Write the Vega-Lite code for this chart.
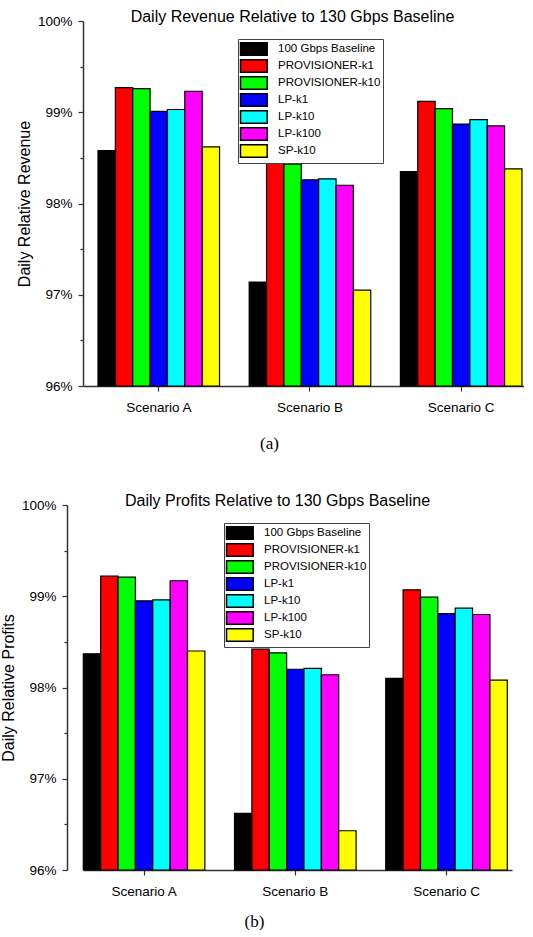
{
  "$schema": "https://vega.github.io/schema/vega-lite/v6.json",
  "padding": {"left": 0, "top": 9, "right": 0, "bottom": 0},
  "background": "white",
  "config": {
    "view": {"stroke": null},
    "font": "Liberation Sans",
    "axis": {"grid": false, "domainColor": "#333", "tickColor": "#333", "domainWidth": 1.5, "tickWidth": 1.2, "labelColor": "black", "labelFont": "Liberation Sans", "titleColor": "black", "titleFontWeight": "normal"},
    "legend": {"orient": "none", "direction": "vertical", "title": null, "fillColor": "white", "strokeColor": "#444", "padding": 2.5, "symbolType": "M-2,-0.92H2V0.92H-2Z", "symbolSize": 178, "symbolOffset": 5.85, "symbolStrokeColor": "black", "symbolStrokeWidth": 1.5, "symbolOpacity": 1, "labelFontSize": 11.5, "labelFont": "Liberation Sans", "labelColor": "black", "labelOffset": 16.7, "rowPadding": -4, "labelLimit": 300},
    "title": {"fontSize": 16, "fontWeight": "normal", "font": "Liberation Sans", "color": "black", "anchor": "middle"}
  },
  "data": {"values": [
    {"panel": "a", "scenario": "Scenario A", "series": "100 Gbps Baseline", "value": 98.58},
    {"panel": "a", "scenario": "Scenario A", "series": "PROVISIONER-k1", "value": 99.27},
    {"panel": "a", "scenario": "Scenario A", "series": "PROVISIONER-k10", "value": 99.26},
    {"panel": "a", "scenario": "Scenario A", "series": "LP-k1", "value": 99.01},
    {"panel": "a", "scenario": "Scenario A", "series": "LP-k10", "value": 99.03},
    {"panel": "a", "scenario": "Scenario A", "series": "LP-k100", "value": 99.23},
    {"panel": "a", "scenario": "Scenario A", "series": "SP-k10", "value": 98.62},
    {"panel": "a", "scenario": "Scenario B", "series": "100 Gbps Baseline", "value": 97.14},
    {"panel": "a", "scenario": "Scenario B", "series": "PROVISIONER-k1", "value": 98.48},
    {"panel": "a", "scenario": "Scenario B", "series": "PROVISIONER-k10", "value": 98.43},
    {"panel": "a", "scenario": "Scenario B", "series": "LP-k1", "value": 98.26},
    {"panel": "a", "scenario": "Scenario B", "series": "LP-k10", "value": 98.27},
    {"panel": "a", "scenario": "Scenario B", "series": "LP-k100", "value": 98.2},
    {"panel": "a", "scenario": "Scenario B", "series": "SP-k10", "value": 97.05},
    {"panel": "a", "scenario": "Scenario C", "series": "100 Gbps Baseline", "value": 98.35},
    {"panel": "a", "scenario": "Scenario C", "series": "PROVISIONER-k1", "value": 99.12},
    {"panel": "a", "scenario": "Scenario C", "series": "PROVISIONER-k10", "value": 99.04},
    {"panel": "a", "scenario": "Scenario C", "series": "LP-k1", "value": 98.87},
    {"panel": "a", "scenario": "Scenario C", "series": "LP-k10", "value": 98.92},
    {"panel": "a", "scenario": "Scenario C", "series": "LP-k100", "value": 98.85},
    {"panel": "a", "scenario": "Scenario C", "series": "SP-k10", "value": 98.38},
    {"panel": "b", "scenario": "Scenario A", "series": "100 Gbps Baseline", "value": 98.37},
    {"panel": "b", "scenario": "Scenario A", "series": "PROVISIONER-k1", "value": 99.22},
    {"panel": "b", "scenario": "Scenario A", "series": "PROVISIONER-k10", "value": 99.21},
    {"panel": "b", "scenario": "Scenario A", "series": "LP-k1", "value": 98.95},
    {"panel": "b", "scenario": "Scenario A", "series": "LP-k10", "value": 98.96},
    {"panel": "b", "scenario": "Scenario A", "series": "LP-k100", "value": 99.17},
    {"panel": "b", "scenario": "Scenario A", "series": "SP-k10", "value": 98.4},
    {"panel": "b", "scenario": "Scenario B", "series": "100 Gbps Baseline", "value": 96.62},
    {"panel": "b", "scenario": "Scenario B", "series": "PROVISIONER-k1", "value": 98.42},
    {"panel": "b", "scenario": "Scenario B", "series": "PROVISIONER-k10", "value": 98.38},
    {"panel": "b", "scenario": "Scenario B", "series": "LP-k1", "value": 98.2},
    {"panel": "b", "scenario": "Scenario B", "series": "LP-k10", "value": 98.21},
    {"panel": "b", "scenario": "Scenario B", "series": "LP-k100", "value": 98.14},
    {"panel": "b", "scenario": "Scenario B", "series": "SP-k10", "value": 96.43},
    {"panel": "b", "scenario": "Scenario C", "series": "100 Gbps Baseline", "value": 98.1},
    {"panel": "b", "scenario": "Scenario C", "series": "PROVISIONER-k1", "value": 99.07},
    {"panel": "b", "scenario": "Scenario C", "series": "PROVISIONER-k10", "value": 98.99},
    {"panel": "b", "scenario": "Scenario C", "series": "LP-k1", "value": 98.81},
    {"panel": "b", "scenario": "Scenario C", "series": "LP-k10", "value": 98.87},
    {"panel": "b", "scenario": "Scenario C", "series": "LP-k100", "value": 98.8},
    {"panel": "b", "scenario": "Scenario C", "series": "SP-k10", "value": 98.08}
  ]},
  "spacing": 41,
  "resolve": {"scale": {"color": "independent"}, "legend": {"color": "independent"}},
  "vconcat": [
    {
      "width": 441,
      "height": 365,
      "title": {"text": "Daily Revenue Relative to 130 Gbps Baseline", "offset": -11, "dx": -11},
      "transform": [{"filter": "datum.panel == 'a'"}],
      "mark": {"type": "bar", "stroke": "black", "strokeWidth": 1.2},
      "encoding": {
        "x": {"field": "scenario", "type": "nominal", "scale": {"paddingInner": 0.196, "paddingOuter": 0.0563, "align": 0.88},
              "axis": {"labelAngle": 0, "labelFontSize": 13.5, "tickSize": 5, "labelPadding": 9, "title": "(a)", "titleFont": "Liberation Serif", "titleFontSize": 17, "titlePadding": 22, "titleX": 186}},
        "xOffset": {"field": "series", "type": "nominal", "sort": ["100 Gbps Baseline", "PROVISIONER-k1", "PROVISIONER-k10", "LP-k1", "LP-k10", "LP-k100", "SP-k10"]},
        "y": {"field": "value", "type": "quantitative", "stack": null, "scale": {"domain": [96, 100], "zero": false, "nice": false},
              "axis": {"values": [96, 96.5, 97, 97.5, 98, 98.5, 99, 99.5, 100], "labelExpr": "datum.value % 1 == 0 ? datum.value + '%' : ''", "tickSize": {"condition": {"test": "datum.value % 1 == 0", "value": 5}, "value": 3}, "labelFontSize": 13.5, "labelPadding": 6, "title": "Daily Relative Revenue", "titleFontSize": 16, "titlePadding": 5}},
        "y2": {"datum": 96},
        "color": {"field": "series", "type": "nominal",
                  "scale": {"domain": ["100 Gbps Baseline", "PROVISIONER-k1", "PROVISIONER-k10", "LP-k1", "LP-k10", "LP-k100", "SP-k10"], "range": ["#000000", "#ff0000", "#00ff00", "#0000ff", "#00ffff", "#ff00ff", "#ffff00"]},
                  "legend": {"legendX": 155, "legendY": 18}}
      }
    },
    {
      "width": 429,
      "height": 365,
      "title": {"text": "Daily Profits Relative to 130 Gbps Baseline", "offset": -11, "dx": -20},
      "transform": [{"filter": "datum.panel == 'b'"}],
      "mark": {"type": "bar", "stroke": "black", "strokeWidth": 1.2},
      "encoding": {
        "x": {"field": "scenario", "type": "nominal", "scale": {"paddingInner": 0.196, "paddingOuter": 0.0165, "align": 0.06},
              "axis": {"labelAngle": 0, "labelFontSize": 13.5, "tickSize": 5, "labelPadding": 9, "title": "(b)", "titleFont": "Liberation Serif", "titleFontSize": 17, "titlePadding": 16, "titleX": 171}},
        "xOffset": {"field": "series", "type": "nominal", "sort": ["100 Gbps Baseline", "PROVISIONER-k1", "PROVISIONER-k10", "LP-k1", "LP-k10", "LP-k100", "SP-k10"]},
        "y": {"field": "value", "type": "quantitative", "stack": null, "scale": {"domain": [96, 100], "zero": false, "nice": false},
              "axis": {"offset": 16, "values": [96, 96.5, 97, 97.5, 98, 98.5, 99, 99.5, 100], "labelExpr": "datum.value % 1 == 0 ? datum.value + '%' : ''", "tickSize": {"condition": {"test": "datum.value % 1 == 0", "value": 5}, "value": 3}, "labelFontSize": 13.5, "labelPadding": 6, "title": "Daily Relative Profits", "titleFontSize": 16, "titlePadding": 5}},
        "y2": {"datum": 96},
        "color": {"field": "series", "type": "nominal",
                  "scale": {"domain": ["100 Gbps Baseline", "PROVISIONER-k1", "PROVISIONER-k10", "LP-k1", "LP-k10", "LP-k100", "SP-k10"], "range": ["#000000", "#ff0000", "#00ff00", "#0000ff", "#00ffff", "#ff00ff", "#ffff00"]},
                  "legend": {"legendX": 141, "legendY": 18}}
      }
    }
  ]
}
